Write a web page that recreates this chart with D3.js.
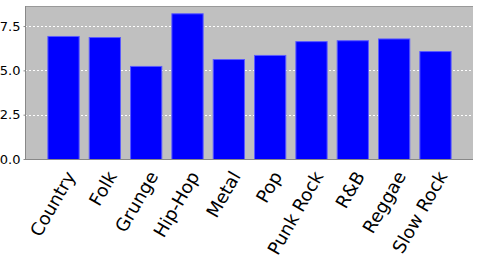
<!DOCTYPE html>
<html>
<head>
<meta charset="utf-8">
<script src="https://cdn.jsdelivr.net/npm/d3@7.9.0/dist/d3.min.js"></script>
<style>
  body { margin: 0; background: #fff; }
  svg { display: block; }
</style>
</head>
<body>
<svg id="chart" width="480" height="270"></svg>
<script>
// === Data ===
const genres = ['Country', 'Folk', 'Grunge', 'Hip-Hop', 'Metal', 'Pop', 'Punk Rock', 'R&B', 'Reggae', 'Slow Rock'];
const scores = [6.94, 6.88, 5.25, 8.22, 5.64, 5.87, 6.65, 6.70, 6.80, 6.09];
const yTicks = [0, 2.5, 5.0, 7.5];

const svg = d3.select('#chart');
const plot = { left: 25, top: 6, right: 473, bottom: 159 };
const plotW = plot.right - plot.left;

// 5% margins at the ends, like the original
const x = d3.scaleBand()
  .domain(genres)
  .range([plot.left + plotW * 0.05, plot.right - plotW * 0.05])
  .paddingInner(0.244)
  .paddingOuter(0);

const y = d3.scaleLinear()
  .domain([0, d3.max(scores) * 1.05])
  .range([plot.bottom, plot.top]);

// background
svg.append('rect')
  .attr('x', plot.left).attr('y', plot.top)
  .attr('width', plotW).attr('height', plot.bottom - plot.top)
  .attr('fill', '#c0c0c0');

// gridlines
svg.append('g')
  .selectAll('line')
  .data(yTicks.filter(d => d > 0))
  .join('line')
  .attr('x1', plot.left).attr('x2', plot.right)
  .attr('y1', d => Math.round(y(d)) + 0.5).attr('y2', d => Math.round(y(d)) + 0.5)
  .attr('stroke', '#ffffff')
  .attr('stroke-dasharray', '2,2');

// bars
svg.append('g')
  .selectAll('rect')
  .data(genres)
  .join('rect')
  .attr('x', d => x(d) + 0.5)
  .attr('y', (d, i) => y(scores[i]) + 0.5)
  .attr('width', x.bandwidth())
  .attr('height', (d, i) => plot.bottom - y(scores[i]))
  .attr('fill', '#0000ff')
  .attr('stroke', '#5a5aff')
  .attr('stroke-width', 1);

// plot outline (top)
svg.append('line')
  .attr('x1', plot.left).attr('x2', plot.right)
  .attr('y1', plot.top + 0.5).attr('y2', plot.top + 0.5)
  .attr('stroke', '#999');

// y axis
const yAxis = svg.append('g')
  .attr('transform', `translate(${plot.left + 0.5},0)`)
  .call(d3.axisLeft(y).tickValues(yTicks).tickFormat(d3.format('.1f')).tickSize(2).tickPadding(3));
yAxis.select('.domain').attr('stroke', '#888').attr('d', `M0,${plot.top}V${plot.bottom}`);
yAxis.selectAll('.tick line').attr('stroke', '#888');
yAxis.selectAll('.tick text')
  .attr('font-family', 'DejaVu Sans')
  .attr('font-size', 13)
  .attr('fill', '#000');

// x axis line
svg.append('line')
  .attr('x1', plot.left).attr('x2', plot.right)
  .attr('y1', plot.bottom + 0.5).attr('y2', plot.bottom + 0.5)
  .attr('stroke', '#888');

// rotated category labels
svg.append('g')
  .selectAll('text')
  .data(genres)
  .join('text')
  .attr('transform', d => `translate(${x(d) + x.bandwidth() / 2 + 13},${plot.bottom + 17}) rotate(-60)`)
  .attr('text-anchor', 'end')
  .attr('font-family', 'DejaVu Sans')
  .attr('font-size', 18)
  .attr('fill', '#000')
  .text(d => d);
</script>
</body>
</html>
